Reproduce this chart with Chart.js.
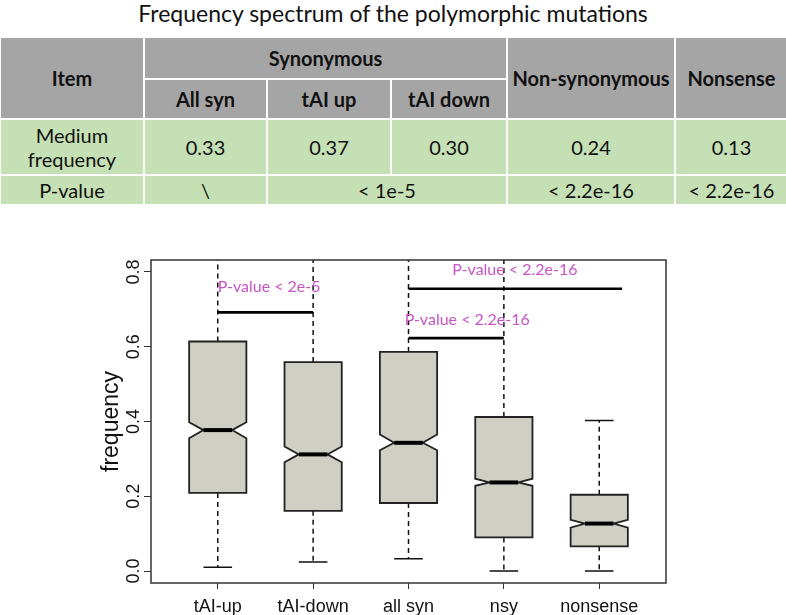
<!DOCTYPE html>
<html>
<head>
<meta charset="utf-8">
<script src="https://cdn.jsdelivr.net/npm/chart.js@4.4.0/dist/chart.umd.min.js"></script>
<style>
  html, body { margin: 0; padding: 0; background: #fff; }
  body { width: 786px; height: 615px; position: relative; overflow: hidden; font-family: Lato, "Open Sans", sans-serif; color: #111; }
  #title { position: absolute; left: 0; top: 0; width: 786px; height: 27px; line-height: 27px; text-align: center; font-size: 23px; }
  #tbl { position: absolute; left: -1px; top: 36px; width: 788px; border-collapse: collapse; table-layout: fixed; font-size: 20px; }
  #tbl th, #tbl td { border: 2px solid #fff; text-align: center; padding: 0; }
  #tbl th { background: #a5a5a5; font-weight: bold; }
  #tbl td { background: #c5e0b4; }
  #wrap { position: absolute; left: 0; top: 230px; width: 786px; height: 385px; }
</style>
</head>
<body>
<div id="title">Frequency spectrum of the polymorphic mutations</div>
<table id="tbl">
  <colgroup>
    <col style="width:144px"><col style="width:123px"><col style="width:124px">
    <col style="width:116px"><col style="width:168px"><col style="width:113px">
  </colgroup>
  <tr style="height:42px"><th rowspan="2">Item</th><th colspan="3">Synonymous</th><th rowspan="2">Non-synonymous</th><th rowspan="2">Nonsense</th></tr>
  <tr style="height:40px"><th>All syn</th><th>tAI up</th><th>tAI down</th></tr>
  <tr id="rowMed" style="height:56px"><td style="line-height:24px">Medium<br>frequency</td></tr>
  <tr id="rowP" style="height:30px"><td>P-value</td></tr>
</table>
<div id="wrap"><canvas id="boxChart" width="786" height="385"></canvas></div>

<script>
// ---------- data ----------
const categories = ['tAI-up', 'tAI-down', 'all syn', 'nsy', 'nonsense'];
const lowerWhisker = [0.010, 0.024, 0.033, 0.000, 0.000];
const lowerQuartile = [0.209, 0.161, 0.182, 0.090, 0.066];
const medians = [0.377, 0.312, 0.343, 0.237, 0.127];
const upperQuartile = [0.614, 0.559, 0.586, 0.412, 0.204];
const upperWhisker = [1.0, 1.0, 1.0, 1.0, 0.403];
const notchLow = [0.355, 0.291, 0.323, 0.228, 0.116];
const notchHigh = [0.398, 0.333, 0.365, 0.247, 0.137];
const yTicks = [0, 0.2, 0.4, 0.6, 0.8];

// significance brackets (x in category units) and their labels
const bracketFrom = [1, 3, 3];
const bracketTo = [2, 5.24, 4];
const bracketY = [0.692, 0.755, 0.623];
const pLabels = ['P-value < 2e-5', 'P-value < 2.2e-16', 'P-value < 2.2e-16'];
const pLabelX = [1.0, 3.46, 2.96];
const pLabelY = [0.759, 0.807, 0.672];

// table above the plot
const tableMedians = ['0.33', '0.37', '0.30', '0.24', '0.13'];
const tablePValues = ['\\', '< 1e-5', '< 2.2e-16', '< 2.2e-16'];
const tablePSpans = [1, 2, 1, 1];

// fill the table rows
const rowMed = document.getElementById('rowMed');
tableMedians.forEach(v => {
    const td = document.createElement('td');
    td.textContent = v;
    rowMed.appendChild(td);
});
const rowP = document.getElementById('rowP');
tablePValues.forEach((v, i) => {
    const td = document.createElement('td');
    td.textContent = v;
    td.colSpan = tablePSpans[i];
    rowP.appendChild(td);
});

// ---------- notched boxplot drawn through the chart scales ----------
const boxHalf = 0.3;   // half box width, category units
const boxPlot = {
    id: 'boxPlot',
    afterDatasetsDraw(chart) {
        const { ctx, chartArea: a, scales: { x, y } } = chart;
        ctx.save();
        ctx.beginPath();
        ctx.rect(a.left, a.top, a.right - a.left, a.bottom - a.top);
        ctx.clip();

        categories.forEach((c, i) => {
            const cx = x.getPixelForValue(i + 1);
            const hw = x.getPixelForValue(i + 1 + boxHalf) - cx;
            const nw = hw / 2;
            const yQ1 = y.getPixelForValue(lowerQuartile[i]);
            const yQ3 = y.getPixelForValue(upperQuartile[i]);
            const yMed = y.getPixelForValue(medians[i]);
            const yNL = y.getPixelForValue(notchLow[i]);
            const yNH = y.getPixelForValue(notchHigh[i]);
            const yLW = y.getPixelForValue(lowerWhisker[i]);
            const yHW = y.getPixelForValue(upperWhisker[i]);

            // whiskers
            ctx.strokeStyle = '#111';
            ctx.lineWidth = 1.5;
            ctx.setLineDash([5, 4]);
            ctx.beginPath();
            ctx.moveTo(cx, yQ3); ctx.lineTo(cx, yHW);
            ctx.moveTo(cx, yQ1); ctx.lineTo(cx, yLW);
            ctx.stroke();
            ctx.setLineDash([]);
            ctx.beginPath();
            ctx.moveTo(cx - nw, yLW); ctx.lineTo(cx + nw, yLW);
            ctx.moveTo(cx - nw, yHW); ctx.lineTo(cx + nw, yHW);
            ctx.stroke();

            // notched box
            ctx.beginPath();
            ctx.moveTo(cx - hw, yQ3);
            ctx.lineTo(cx + hw, yQ3);
            ctx.lineTo(cx + hw, yNH);
            ctx.lineTo(cx + nw, yMed);
            ctx.lineTo(cx + hw, yNL);
            ctx.lineTo(cx + hw, yQ1);
            ctx.lineTo(cx - hw, yQ1);
            ctx.lineTo(cx - hw, yNL);
            ctx.lineTo(cx - nw, yMed);
            ctx.lineTo(cx - hw, yNH);
            ctx.closePath();
            ctx.fillStyle = '#cfcfc5';
            ctx.fill();
            ctx.lineWidth = 1.8;
            ctx.strokeStyle = '#222';
            ctx.stroke();

            // median
            ctx.beginPath();
            ctx.moveTo(cx - nw, yMed); ctx.lineTo(cx + nw, yMed);
            ctx.lineWidth = 4;
            ctx.strokeStyle = '#000';
            ctx.stroke();
        });

        // significance brackets
        ctx.strokeStyle = '#000';
        ctx.lineWidth = 2.6;
        bracketY.forEach((v, i) => {
            const py = y.getPixelForValue(v);
            ctx.beginPath();
            ctx.moveTo(x.getPixelForValue(bracketFrom[i]), py);
            ctx.lineTo(x.getPixelForValue(bracketTo[i]), py);
            ctx.stroke();
        });
        ctx.font = '16px Lato';
        ctx.fillStyle = '#c853c8';
        ctx.textAlign = 'left';
        ctx.textBaseline = 'middle';
        pLabels.forEach((t, i) => {
            ctx.fillText(t, x.getPixelForValue(pLabelX[i]), y.getPixelForValue(pLabelY[i]));
        });
        ctx.restore();

        // plot frame
        ctx.save();
        ctx.strokeStyle = '#333';
        ctx.lineWidth = 1.5;
        ctx.strokeRect(a.left, a.top, a.right - a.left, a.bottom - a.top);
        ctx.restore();
    }
};

const axisFont = { family: 'Liberation Sans', size: 18 };

new Chart(document.getElementById('boxChart'), {
    type: 'scatter',
    data: {
        datasets: [{
            label: 'median',
            data: medians.map((m, i) => ({ x: i + 1, y: m })),
            pointRadius: 0,
            showLine: false
        }]
    },
    options: {
        responsive: false,
        animation: false,
        devicePixelRatio: 1,
        layout: { padding: { left: 98, right: 120, top: 30, bottom: 0 } },
        plugins: { legend: { display: false }, tooltip: { enabled: false } },
        scales: {
            x: {
                type: 'linear',
                min: 0.3,
                max: 5.7,
                afterBuildTicks: s => { s.ticks = categories.map((c, i) => ({ value: i + 1 })); },
                afterFit: s => { s.height = 32; },
                border: { display: false },
                grid: { drawOnChartArea: false, tickLength: 6, color: '#333' },
                ticks: {
                    autoSkip: false,
                    maxRotation: 0,
                    padding: 7,
                    color: '#111',
                    font: axisFont,
                    callback: v => categories[Math.round(v) - 1]
                }
            },
            y: {
                min: -0.032,
                max: 0.832,
                afterBuildTicks: s => { s.ticks = yTicks.map(v => ({ value: v })); },
                afterFit: s => { s.width = 53; },
                border: { display: false },
                grid: { drawOnChartArea: false, tickLength: 7, color: '#333' },
                ticks: {
                    minRotation: 90,
                    maxRotation: 90,
                    crossAlign: 'center',
                    padding: -3,
                    color: '#111',
                    font: { family: 'Liberation Sans', size: 18 },
                    callback: v => v.toFixed(1)
                },
                title: {
                    display: true,
                    text: 'frequency',
                    color: '#111',
                    padding: 0,
                    font: { family: 'Liberation Sans', size: 23 }
                }
            }
        }
    },
    plugins: [boxPlot]
});
</script>
</body>
</html>
